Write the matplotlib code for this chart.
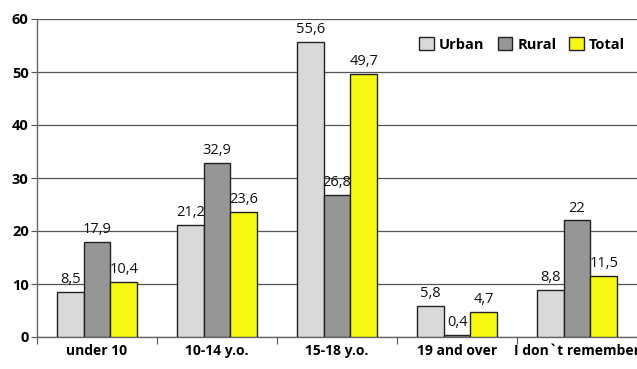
import numpy as np
import matplotlib
matplotlib.use("Agg")
import matplotlib.pyplot as plt

plt.rcParams['font.family'] = ['Open Sans', 'DejaVu Sans']

categories = ['under 10', '10-14 y.o.', '15-18 y.o.', '19 and over', 'I don`t remember']
urban = [8.5, 21.2, 55.6, 5.8, 8.8]
rural = [17.9, 32.9, 26.8, 0.4, 22]
total = [10.4, 23.6, 49.7, 4.7, 11.5]
yticks = [0, 10, 20, 30, 40, 50, 60]

series = [('Urban', urban, '#d9d9d9'),
          ('Rural', rural, '#969696'),
          ('Total', total, '#f7f714')]


def fmt(v):
    s = f'{v:g}'
    return s.replace('.', ',')


fig = plt.figure(figsize=(6.37, 3.69), dpi=100)
ax = fig.add_axes([37 / 637, 32 / 369, 1 - 37 / 637, 318 / 369])

x = np.arange(len(categories))
w = 0.667 / 3
for i, (name, vals, col) in enumerate(series):
    pos = x - w + i * w
    ax.bar(pos, vals, width=w, color=col, edgecolor='#222222',
           linewidth=1.0, label=name, zorder=3)
    for p, v in zip(pos, vals):
        ax.annotate(fmt(v), (p, v), xytext=(0, 3.5), textcoords='offset points',
                    ha='center', va='bottom', fontsize=10.5, color='#111111',
                    zorder=4)

ax.set_xlim(-0.5, len(categories) - 0.5)
ax.set_ylim(0, 60)
ax.set_yticks(yticks)
ax.set_yticklabels([str(t) for t in yticks], fontweight='bold', fontsize=10.5)
ax.yaxis.grid(True, color='#555555', linewidth=0.9, zorder=0)
ax.set_axisbelow(True)

ax.set_xticks(np.arange(len(categories) + 1) - 0.5, minor=False)
ax.set_xticklabels([])
ax.set_xticks(x, minor=True)
ax.set_xticklabels(categories, minor=True, fontweight='bold', fontsize=10)
ax.tick_params(axis='x', which='major', length=5, color='#555555', direction='out')
ax.tick_params(axis='x', which='minor', length=0, pad=5)
ax.tick_params(axis='y', length=4, color='#555555', pad=2)

for s in ['top', 'right']:
    ax.spines[s].set_visible(False)
for s in ['left', 'bottom']:
    ax.spines[s].set_color('#666666')
    ax.spines[s].set_linewidth(1.0)

leg = ax.legend(loc='upper right', bbox_to_anchor=(0.995, 0.97), ncol=3,
                frameon=False, prop={'weight': 'bold', 'size': 10.5},
                handlelength=1.0, handleheight=1.0, handletextpad=0.35,
                columnspacing=0.9, borderaxespad=0.2)

fig.savefig('out.png', dpi=100, facecolor='white')
